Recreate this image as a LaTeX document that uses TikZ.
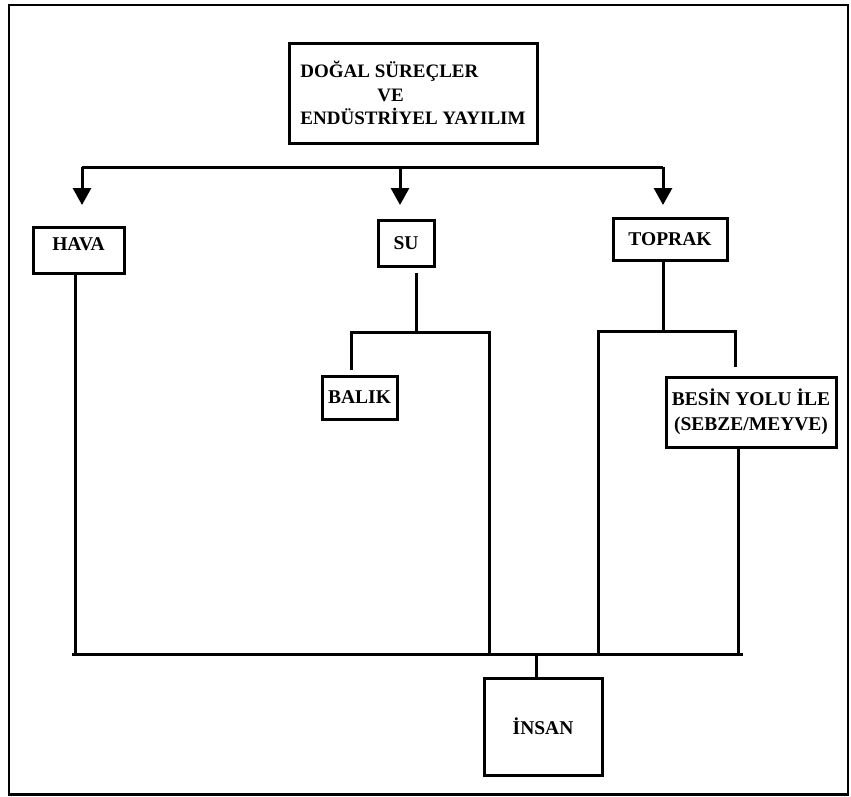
\documentclass[tikz,border=0pt]{standalone}
\usepackage{fontspec}
\setmainfont{Liberation Serif}
\usetikzlibrary{arrows.meta}
\begin{document}
\begin{tikzpicture}[x=1pt,y=-1pt,
                    kutu/.style={draw,line width=3pt,inner sep=2pt,font=\bfseries\fontsize{19.5}{25}\selectfont},
                    hat/.style={line width=3pt},
                    ok/.style={line width=3pt,-{Triangle[length=17pt,width=18pt]}}]
                    \useasboundingbox (0,0) rectangle (851,796);
                    \draw [line width=2.6pt] (9,5) rectangle (848,794.5);

                    \node [kutu,minimum width=248pt,minimum height=100pt,align=left,font=\bfseries\fontsize{19}{23.5}\selectfont] (kaynak) at (413,93)
                        {DOĞAL SÜREÇLER\\\hspace*{77pt}VE\\ENDÜSTRİYEL YAYILIM};

                    \coordinate (ucSol) at (82,167);
                    \coordinate (ucOrta) at (400,167);
                    \coordinate (ucSag) at (663,167);
                    \coordinate (okSol) at (82,205);
                    \coordinate (okOrta) at (400,205);
                    \coordinate (okSag) at (663,205);
                    \draw [hat] (ucSol)--(ucSag);
                    \draw [ok] (ucSol)--(okSol);
                    \draw [ok] (ucOrta)--(okOrta);
                    \draw [ok] (ucSag)--(okSag);

                    \node [kutu,minimum width=91pt,minimum height=46pt,text depth=12pt] (hava) at (78.5,250) {HAVA};
                    \node [kutu,minimum width=56pt,minimum height=46pt] (su) at (406,243) {SU};
                    \node [kutu,minimum width=114pt,minimum height=42pt] (toprak) at (670,239) {TOPRAK};

                    \coordinate (suCikis) at (416,273);
                    \coordinate (suDal) at (416,332);
                    \coordinate (suSol) at (351,332);
                    \coordinate (suSag) at (489,332);
                    \coordinate (balikUst) at (351,370);
                    \coordinate (suAlt) at (489,656);
                    \draw [hat] (suCikis)--(suDal);
                    \draw [hat] (balikUst)--(suSol)--(suSag)--(suAlt);
                    \node [kutu,minimum width=75pt,minimum height=43pt] (balik) at (359.5,397.5) {BALIK};

                    \coordinate (toprakDal) at (663,331);
                    \coordinate (toprakSol) at (598,331);
                    \coordinate (toprakSag) at (735,331);
                    \coordinate (besinUst) at (735,367);
                    \coordinate (toprakAlt) at (598,656);
                    \draw [hat] (toprak.south -| toprakDal)--(toprakDal);
                    \draw [hat] (toprakAlt)--(toprakSol)--(toprakSag)--(besinUst);
                    \node [kutu,minimum width=170pt,minimum height=70pt,align=center] (besin) at (751,412)
                        {BESİN YOLU İLE\\(SEBZE/MEYVE)};

                    \coordinate (havaAlt) at (75,654);
                    \coordinate (besinAlt) at (738,656);
                    \draw [hat] (hava.south -| havaAlt)--(havaAlt);
                    \draw [hat] (besin.south -| besinAlt)--(besinAlt);

                    \coordinate (altSol) at (72,654);
                    \coordinate (altSag) at (743,654);
                    \coordinate (insanDal) at (536,654);
                    \draw [hat] (altSol)--(altSag);
                    \node [kutu,minimum width=118pt,minimum height=97pt] (insan) at (543,726.5) {İNSAN};
                    \draw [hat] (insanDal)--(insan.north -| insanDal);
\end{tikzpicture}
\end{document}
